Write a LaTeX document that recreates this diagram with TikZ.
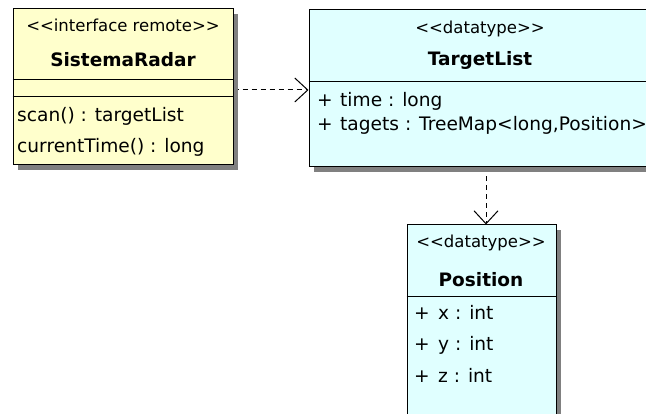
\documentclass[tikz,border=0pt]{standalone}
\usepackage{fontspec}
\setmainfont{DejaVu Sans}
\usetikzlibrary{arrows.meta,shadows,backgrounds}
\definecolor{ifacefill}{HTML}{FFFFCC}
\definecolor{dtfill}{HTML}{E0FFFF}
\definecolor{shade}{HTML}{808080}
% plain angle brackets, kept apart so they are not merged into guillemets
\newcommand{\stlt}{<\kern0pt<}
\newcommand{\stgt}{>\kern0pt>}
\tikzset{
  classbox/.style={draw=black, line width=1pt, rectangle, inner sep=0pt,
    drop shadow={shadow xshift=5pt, shadow yshift=-5pt, fill=shade, opacity=1}},
  stereo/.style={anchor=base, inner sep=0pt, font=\fontsize{16.5}{19}\selectfont},
  cname/.style={anchor=base, inner sep=0pt, font=\fontsize{18.5}{21}\selectfont\bfseries},
  member/.style={anchor=base west, inner sep=0pt, font=\fontsize{18.6}{21}\selectfont},
  sepline/.style={line width=1pt},
  dep/.style={dash pattern=on 5pt off 4pt, line width=1pt,
    -{Straight Barb[length=13pt,width=24pt]}}
}
\begin{document}
\begin{tikzpicture}[x=1pt,y=-1pt]
\useasboundingbox (0,0) rectangle (646,414);

% class boxes
\node[classbox, fill=ifacefill, minimum width=220pt, minimum height=156pt] (radar) at (123,87) {};
\node[classbox, fill=dtfill, minimum width=342pt, minimum height=157pt] (tl) at (480,88.5) {};
\node[classbox, fill=dtfill, minimum width=149pt, minimum height=200pt] (pos) at (481.5,325) {};

% compartment separators
\draw[sepline] (radar.west |- 0,80) -- (radar.east |- 0,80);
\draw[sepline] (radar.west |- 0,97) -- (radar.east |- 0,97);
\draw[sepline] (tl.west |- 0,82) -- (tl.east |- 0,82);
\draw[sepline] (pos.west |- 0,297) -- (pos.east |- 0,297);

% SistemaRadar
\node[stereo] (radar-st) at (123,32) {\stlt interface remote\stgt};
\node[cname] (radar-nm) at (123,67) {SistemaRadar};
\node[member] (radar-m1) at (17,122) {scan() : targetList};
\node[member] (radar-m2) at (17,153) {currentTime() : long};

% TargetList
\node[stereo] (tl-st) at (480,34) {\stlt datatype\stgt};
\node[cname] (tl-nm) at (480,66) {TargetList};
\node[member] (tl-p1) at (317,107) {+};
\node[member] (tl-a1) at (340,107) {time : long};
\node[member] (tl-p2) at (317,131) {+};
\node[member] (tl-a2) at (340,131) {tagets : TreeMap<long,Position>};

% Position
\node[stereo] (pos-st) at (481,248) {\stlt datatype\stgt};
\node[cname] (pos-nm) at (481,287) {Position};
\node[member] (pos-p1) at (414,320) {+};
\node[member] (pos-a1) at (438,320) {x : int};
\node[member] (pos-p2) at (414,351) {+};
\node[member] (pos-a2) at (438,351) {y : int};
\node[member] (pos-p3) at (414,382) {+};
\node[member] (pos-a3) at (438,382) {z : int};

% dependencies
\begin{scope}[on background layer]
  \draw[dep] ([yshift=-3pt]radar.east) -- ([yshift=-3pt]radar.east -| tl.west);
  \draw[dep] ([xshift=4.5pt]pos.north |- tl.south) -- ([xshift=4.5pt]pos.north);
\end{scope}
\end{tikzpicture}
\end{document}
